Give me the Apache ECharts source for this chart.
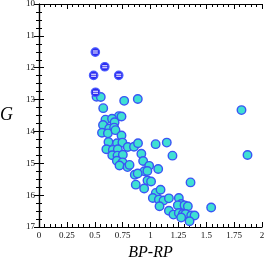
<!DOCTYPE html>
<html><head><meta charset="utf-8">
<script src="https://cdn.jsdelivr.net/npm/echarts@6/dist/echarts.min.js"></script>
<style>html,body{margin:0;padding:0;background:#fff}#c{width:266px;height:259px}</style>
</head><body><div id="c"></div>
<script>
// BP-RP, G of bright stars (blue circles with bar)
const brightStars = [[0.505,11.51],[0.59,11.97],[0.49,12.24],[0.715,12.24],[0.507,12.77]];
// BP-RP, G of cluster members (cyan circles)
const members = [
 [0.516,12.91],[0.554,12.92],[0.764,13.04],[0.886,12.98],[1.816,13.33],
 [0.576,13.27],[0.716,13.52],[0.740,13.53],[0.596,13.63],[0.655,13.60],[0.678,13.71],
 [0.574,13.80],[0.630,13.91],[0.674,13.88],[0.565,14.04],[0.618,14.06],[0.686,13.96],[0.740,14.13],
 [0.623,14.33],[0.700,14.37],[0.748,14.35],[0.796,14.49],[0.852,14.48],[0.888,14.37],[1.046,14.40],
 [1.146,14.35],[0.604,14.56],[0.662,14.58],[0.707,14.56],[0.657,14.75],[0.704,14.76],[0.752,14.73],
 [0.918,14.70],[1.197,14.76],[1.870,14.74],
 [0.698,14.92],[0.749,14.97],[0.722,15.07],[0.794,15.12],[0.812,15.05],[0.934,14.93],[0.988,15.08],
 [0.945,15.25],[0.972,15.24],[1.069,15.18],[0.859,15.36],[0.885,15.32],[0.868,15.67],[0.973,15.54],
 [1.005,15.57],[0.943,15.79],[1.048,15.93],[1.090,15.83],[1.359,15.60],
 [1.021,16.09],[1.075,16.14],[1.117,16.17],[1.165,16.10],[1.081,16.35],[1.254,16.09],[1.275,16.28],
 [1.245,16.32],[1.305,16.32],[1.335,16.35],[1.165,16.49],[1.206,16.61],[1.254,16.56],[1.290,16.59],
 [1.314,16.59],[1.275,16.70],[1.365,16.64],[1.395,16.64],[1.350,16.82],[1.544,16.39]
];
const xTickLabels = {0:'0',0.25:'0.25',0.5:'0.5',0.75:'0.75',1:'1',1.25:'1.25',1.5:'1.5',1.75:'1.75',2:'2'};
const xName = 'BP-RP', yName = 'G';

const serif = '"Liberation Serif", "DejaVu Serif", serif';
const axLine = {show:true, lineStyle:{color:'#000', width:1.2}};
const chart = echarts.init(document.getElementById('c'));
chart.setOption({
  animation:false,
  grid:{left:39, top:4, right:4, bottom:32, containLabel:false, outerBoundsMode:'none'},
  xAxis:[{
    type:'value', min:0, max:2, interval:0.25, position:'bottom',
    axisLine:axLine, splitLine:{show:false},
    axisTick:{inside:true, length:5, lineStyle:{color:'#000'}},
    minorTick:{show:true, splitNumber:5, length:3, lineStyle:{color:'#000'}},
    axisLabel:{fontFamily:serif, fontSize:9, color:'#111', margin:4, formatter:v=>xTickLabels[v] ?? ''},
    name:xName, nameLocation:'middle', nameGap:16,
    nameTextStyle:{fontFamily:serif, fontStyle:'italic', fontSize:16, color:'#000'}
  },{
    type:'value', min:0, max:2, interval:0.25, position:'top',
    axisLine:axLine, splitLine:{show:false},
    axisTick:{inside:true, length:5, lineStyle:{color:'#000'}},
    minorTick:{show:true, splitNumber:5, length:3, lineStyle:{color:'#000'}},
    axisLabel:{show:false}
  }],
  yAxis:[{
    type:'value', min:10, max:17, interval:1, inverse:true, position:'left',
    axisLine:axLine, splitLine:{show:false},
    axisTick:{inside:true, length:5, lineStyle:{color:'#000'}},
    minorTick:{show:true, splitNumber:4, length:3, lineStyle:{color:'#000'}},
    axisLabel:{fontFamily:serif, fontSize:9, color:'#111', margin:4},
    name:yName, nameLocation:'middle', nameGap:26, nameRotate:0,
    nameTextStyle:{fontFamily:serif, fontStyle:'italic', fontSize:18, color:'#000'}
  },{
    type:'value', min:10, max:17, interval:1, inverse:true, position:'right',
    axisLine:axLine, splitLine:{show:false},
    axisTick:{inside:true, length:5, lineStyle:{color:'#000'}},
    minorTick:{show:true, splitNumber:4, length:3, lineStyle:{color:'#000'}},
    axisLabel:{show:false}
  }],
  series:[
    {type:'scatter', data:members, symbol:'circle', symbolSize:8.5,
     itemStyle:{color:'#3fe0d2', borderColor:'#3a55f5', borderWidth:1.4, opacity:1}},
    {type:'scatter', data:brightStars, symbol:'circle', symbolSize:8.5,
     itemStyle:{color:'#2b2bf0', borderColor:'#4a5cff', borderWidth:1.2, opacity:1}},
    {type:'scatter', data:brightStars, symbol:'path://M0,0H10V1H0Z M0,2H10V3H0Z', symbolSize:[5,3], silent:true,
     itemStyle:{color:'#ffffff', opacity:1}}
  ]
});
</script></body></html>
